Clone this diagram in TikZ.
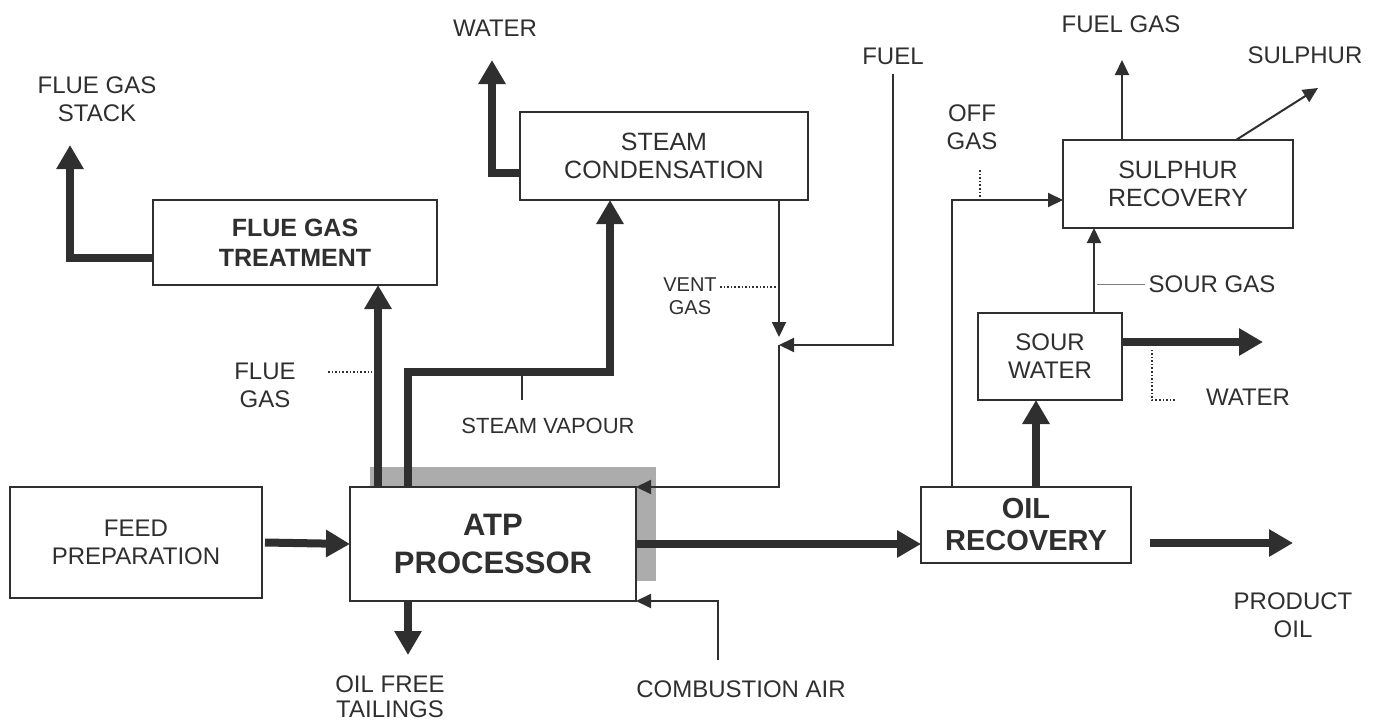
\documentclass[tikz,border=0pt]{standalone}
\usepackage{fontspec}
\setmainfont{Liberation Sans}
\usetikzlibrary{positioning, arrows.meta, shadows}
\definecolor{ink}{HTML}{2F2F2F}

\begin{document}
\begin{tikzpicture}[
  x=1pt, y=-1pt,
  font=\fontsize{24}{28}\selectfont,
  color=ink,
  box/.style={draw=ink, line width=2.5pt, fill=white, align=center,
              inner sep=0pt, outer sep=0pt},
  bigbold/.style={font=\fontsize{31}{38}\selectfont\bfseries},
  midbold/.style={font=\fontsize{25}{30}\selectfont\bfseries},
  lbl/.style={align=center, inner sep=0pt},
  fat/.style={line width=8pt, -{Triangle[length=24pt, width=26pt]}},
  thinarr/.style={line width=2pt, -{Triangle[length=15pt, width=14pt]}},
  lead/.style={line width=1.6pt, dotted}
]
\useasboundingbox (0,0) rectangle (1382,723);

% process boxes
\node[box, minimum width=252pt, minimum height=111pt] (feed) at (136,542.5) {FEED\\PREPARATION};
\node[box, bigbold, minimum width=286pt, minimum height=114pt,
      drop shadow={shadow xshift=20pt, shadow yshift=20pt, fill=gray!65, opacity=1}]
      (atp) at (493,544) {ATP\\PROCESSOR};
\node[box, font=\fontsize{29}{32}\selectfont\bfseries, minimum width=210pt, minimum height=76pt] (oil) at (1026,525) {OIL\\RECOVERY};
\node[box, midbold, minimum width=284pt, minimum height=85pt] (flue) at (295,242.5) {FLUE GAS\\TREATMENT};
\node[box, font=\fontsize{25}{28}\selectfont, minimum width=288pt, minimum height=88pt] (steam) at (664,156) {STEAM\\CONDENSATION};
\node[box, font=\fontsize{25}{28}\selectfont, minimum width=230pt, minimum height=88pt] (sulphur) at (1178,184) {SULPHUR\\RECOVERY};
\node[box, minimum width=144pt, minimum height=87pt] (sour) at (1050,356.5) {SOUR\\WATER};

% stream labels
\node[lbl] (lstack) at (97,99) {FLUE GAS\\STACK};
\node[lbl] (lwater) at (495,28) {WATER};
\node[lbl] (lfuel) at (893,56) {FUEL};
\node[lbl] (lfuelgas) at (1121,24) {FUEL GAS};
\node[lbl] (lsulphur) at (1305,55) {SULPHUR};
\node[lbl] (loff) at (972,127) {OFF\\GAS};
\node[lbl, font=\fontsize{20}{23}\selectfont] (lvent) at (690,296) {VENT\\GAS};
\node[lbl] (lflue) at (265,385) {FLUE\\GAS};
\node[lbl, font=\fontsize{22}{26}\selectfont] (lvap) at (548,426) {STEAM VAPOUR};
\node[lbl] (lsour) at (1212,284) {SOUR GAS};
\node[lbl] (lwout) at (1248,397) {WATER};
\node[lbl] (lprod) at (1293,615) {PRODUCT\\OIL};
\node[lbl, font=\fontsize{24}{25}\selectfont] (ltail) at (390,697) {OIL FREE\\TAILINGS};
\node[lbl] (lair) at (741,689) {COMBUSTION AIR};

% free ends
\coordinate (stack) at (70,145);
\coordinate (wtop) at (492,60);
\coordinate (fuel) at (893,74);
\coordinate (mix) at (779,345);
\coordinate (bend) at (610,372);
\coordinate (air) at (718,660);
\coordinate (tail) at (408,655);
\coordinate (prod0) at (1150,543);
\coordinate (prod) at (1293,543);
\coordinate (wout) at (1263,342);
\coordinate (fgas) at (1122,60);
\coordinate (sulph) at (1318,88);

% main flow
\draw[fat] ([xshift=3pt]feed.east) -- (atp.west);
\draw[fat] (atp.east) -- (atp.east -| oil.west);
\draw[fat] (prod0) -- (prod);
\draw[fat] ([xshift=58pt]atp.south west) -- (tail);
\draw[fat] ([xshift=28pt]atp.north west) -- ([xshift=83pt]flue.south);
\draw[fat] ([xshift=58pt]atp.north west) |- (bend) -- ([xshift=-54pt]steam.south);
\draw[fat] ([yshift=-15pt]flue.west) -| (stack);
\draw[fat] ([yshift=-17pt]steam.west) -| (wtop);
\draw[fat] ([xshift=10pt]oil.north) -- ([xshift=-14pt]sour.south);
\draw[fat] ([yshift=14.5pt]sour.east) -- (wout);

% gas lines
\draw[thinarr] ([xshift=115pt]steam.south) -- ([yshift=8pt]mix);
\draw[thinarr] (fuel) |- (mix);
\draw[thinarr] (mix) |- (atp.north east);
\draw[thinarr] (air) |- (atp.south east);
\draw[thinarr] ([xshift=-74pt]oil.north) |- ([yshift=-16pt]sulphur.west);
\draw[thinarr] ([xshift=44pt]sour.north) -- ([xshift=-84pt]sulphur.south);
\draw[thinarr] ([xshift=-56pt]sulphur.north) -- (fgas);
\draw[thinarr] ([xshift=58pt]sulphur.north) -- (sulph);

% leaders
\draw[lead] ([shift={(63,-13)}]lflue.center) -- ++(44,0);
\draw[lead] ([shift={(30,-9)}]lvent.center) -- ++(56,0);
\draw[lead] ([shift={(8,43)}]loff.center) -- ++(0,27);
\draw[gray, line width=1pt] ([xshift=-3pt]lsour.west) -- ++(-48,0);
\draw[lead] ([shift={(-73,3)}]lwout.center) -- ++(-23,0) -- ++(0,-50);
\draw[line width=2pt] ([shift={(-26,-26)}]lvap.center) -- ++(0,-28);
\end{tikzpicture}
\end{document}
